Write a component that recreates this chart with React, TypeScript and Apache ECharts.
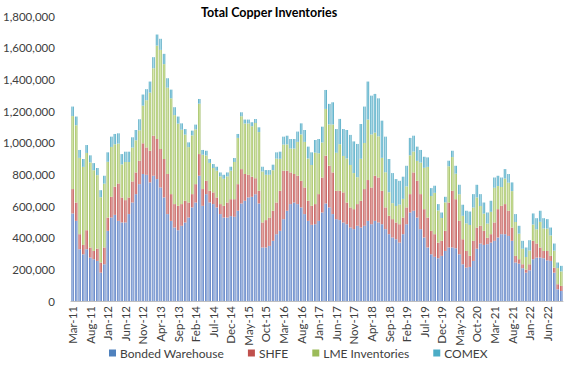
import React, { useEffect, useRef } from "react";
import * as echarts from "echarts";

const categories: string[] = [
  "Mar-11","Apr-11","May-11","Jun-11","Jul-11","Aug-11","Sep-11","Oct-11","Nov-11","Dec-11",
  "Jan-12","Feb-12","Mar-12","Apr-12","May-12","Jun-12","Jul-12","Aug-12","Sep-12","Oct-12","Nov-12","Dec-12",
  "Jan-13","Feb-13","Mar-13","Apr-13","May-13","Jun-13","Jul-13","Aug-13","Sep-13","Oct-13","Nov-13","Dec-13",
  "Jan-14","Feb-14","Mar-14","Apr-14","May-14","Jun-14","Jul-14","Aug-14","Sep-14","Oct-14","Nov-14","Dec-14",
  "Jan-15","Feb-15","Mar-15","Apr-15","May-15","Jun-15","Jul-15","Aug-15","Sep-15","Oct-15","Nov-15","Dec-15",
  "Jan-16","Feb-16","Mar-16","Apr-16","May-16","Jun-16","Jul-16","Aug-16","Sep-16","Oct-16","Nov-16","Dec-16",
  "Jan-17","Feb-17","Mar-17","Apr-17","May-17","Jun-17","Jul-17","Aug-17","Sep-17","Oct-17","Nov-17","Dec-17",
  "Jan-18","Feb-18","Mar-18","Apr-18","May-18","Jun-18","Jul-18","Aug-18","Sep-18","Oct-18","Nov-18","Dec-18",
  "Jan-19","Feb-19","Mar-19","Apr-19","May-19","Jun-19","Jul-19","Aug-19","Sep-19","Oct-19","Nov-19","Dec-19",
  "Jan-20","Feb-20","Mar-20","Apr-20","May-20","Jun-20","Jul-20","Aug-20","Sep-20","Oct-20","Nov-20","Dec-20",
  "Jan-21","Feb-21","Mar-21","Apr-21","May-21","Jun-21","Jul-21","Aug-21","Sep-21","Oct-21","Nov-21","Dec-21",
  "Jan-22","Feb-22","Mar-22","Apr-22","May-22","Jun-22","Jul-22","Aug-22","Sep-22","Oct-22",
];

// thousand tonnes
const bondedWarehouse: number[] = [
  553,506,327,295,327,274,264,253,179,232,
  443,527,544,506,496,496,549,622,675,738,
  802,797,749,791,770,717,654,549,506,464,
  447,475,496,527,591,622,791,601,675,622,
  612,591,549,527,527,536,532,570,616,633,
  654,658,675,616,338,338,348,380,422,443,
  517,570,612,622,612,591,549,506,481,485,
  506,559,616,591,549,517,511,496,485,464,
  454,475,464,475,506,485,506,496,485,454,
  422,401,390,369,422,485,559,570,527,454,
  401,338,295,279,270,285,316,338,338,333,
  295,232,211,215,253,330,363,354,359,369,
  380,401,422,422,411,380,243,236,207,179,
  194,264,274,274,270,257,253,179,74,63,
];

const shfe: number[] = [
  154,116,95,59,120,64,52,78,64,106,
  84,131,178,236,158,141,105,133,137,148,
  194,173,200,253,253,243,243,253,169,148,
  154,137,137,95,84,116,137,106,84,74,
  74,63,63,74,95,107,111,168,217,169,
  143,127,101,80,158,173,179,190,200,253,
  306,253,200,180,179,168,168,127,120,127,
  169,221,302,263,263,179,185,190,137,127,
  126,137,169,232,258,232,285,284,211,137,
  116,116,106,116,105,106,116,242,232,221,
  179,189,148,143,99,95,127,284,358,310,
  211,158,105,70,127,134,112,89,40,53,
  116,179,179,190,159,84,42,28,25,20,
  38,116,89,64,46,59,32,32,32,32,
];

const lmeInventories: number[] = [
  461,488,482,493,488,537,510,464,412,403,
  352,315,268,252,209,241,224,214,203,192,
  238,298,367,426,590,626,599,545,605,562,
  519,470,418,350,371,346,318,217,160,176,
  154,169,175,171,165,180,235,292,334,319,
  324,319,349,371,322,286,270,256,277,202,
  165,166,151,161,214,293,288,267,258,325,
  258,221,295,261,303,240,294,230,278,268,
  228,170,265,291,382,335,272,260,208,222,
  149,101,104,124,118,133,245,132,126,199,
  261,320,220,261,203,144,180,229,213,161,
  168,148,174,195,210,190,125,109,90,141,
  219,146,119,161,177,230,214,161,98,79,
  87,103,90,162,142,141,129,107,102,92,
];

const comex: number[] = [
  60,55,50,50,50,45,45,45,45,50,
  60,65,65,65,65,65,65,65,65,70,
  70,70,70,70,70,70,65,60,55,50,
  45,40,35,30,30,30,30,30,30,25,
  25,25,25,25,25,25,25,25,25,25,
  25,25,25,30,30,30,30,35,40,45,
  50,55,60,60,65,70,75,75,80,80,
  90,100,120,130,140,150,160,170,180,190,
  200,210,220,230,240,245,245,240,235,225,
  210,190,170,150,140,130,110,100,90,80,
  70,60,50,45,40,35,35,35,40,50,
  60,70,80,85,85,80,75,70,70,70,
  65,65,60,60,55,55,50,50,50,60,
  65,70,70,70,65,60,50,45,35,35,
];

const seriesNames = ["Bonded Warehouse", "SHFE", "LME Inventories", "COMEX"];
const seriesData = [bondedWarehouse, shfe, lmeInventories, comex];
const legendColors = ["#4F81BD", "#C0504D", "#9BBB59", "#4BACC6"];
const barEdge = ["#4A6FB5", "#B34A48", "#93B356", "#3E9BB8"];
const barCenter = ["#A9C0EA", "#E8A3A1", "#D8EAAA", "#A9DCEA"];

const FONT = "Lato, 'Noto Sans', sans-serif";

export default function App() {
  const ref = useRef<HTMLDivElement>(null);

  useEffect(() => {
    if (!ref.current) return;
    const chart = echarts.init(ref.current, null, { renderer: "svg" });
    chart.setOption({
      animation: false,
      title: {
        text: "Total Copper Inventories",
        left: 196,
        top: 1,
        textStyle: { fontFamily: FONT, fontSize: 12.5, fontWeight: "bold", color: "#000" },
      },
      grid: { left: 63, right: 3, top: 16, bottom: 72, containLabel: false },
      legend: {
        bottom: 9,
        left: 104,
        icon: "rect",
        itemWidth: 7,
        itemHeight: 7,
        itemGap: 24,
        textStyle: { fontFamily: FONT, fontSize: 12, color: "#404040", padding: [0, 0, 0, -1] },
        data: seriesNames.map((n, i) => ({ name: n, itemStyle: { color: legendColors[i] } })),
      },
      xAxis: {
        type: "category",
        data: categories,
        boundaryGap: true,
        axisTick: { show: false },
        axisLine: { show: true, lineStyle: { color: "#BFBFBF" } },
        axisLabel: {
          rotate: 90,
          interval: 4,
          fontFamily: FONT,
          fontSize: 11.5,
          color: "#404040",
          margin: 5,
        },
      },
      yAxis: {
        type: "value",
        min: 0,
        max: 1800000,
        interval: 200000,
        splitLine: { show: false },
        axisLine: { show: false },
        axisTick: { show: false },
        axisLabel: {
          fontFamily: FONT,
          fontSize: 11.5,
          color: "#404040",
          margin: 16,
          formatter: (v: number) => v.toLocaleString("en-US"),
        },
      },
      series: seriesNames.map((name, i) => ({
        name,
        type: "bar",
        stack: "total",
        barCategoryGap: "30%",
        data: seriesData[i].map((v) => v * 1000),
        itemStyle: {
          color: new echarts.graphic.LinearGradient(0, 0, 1, 0, [
            { offset: 0, color: barEdge[i] },
            { offset: 0.5, color: barCenter[i] },
            { offset: 1, color: barEdge[i] },
          ]),
        },
      })),
    });
    return () => chart.dispose();
  }, []);

  return (
    <div
      ref={ref}
      style={{ position: "fixed", left: 0, top: 0, width: 566, height: 373, background: "#fff" }}
    />
  );
}
